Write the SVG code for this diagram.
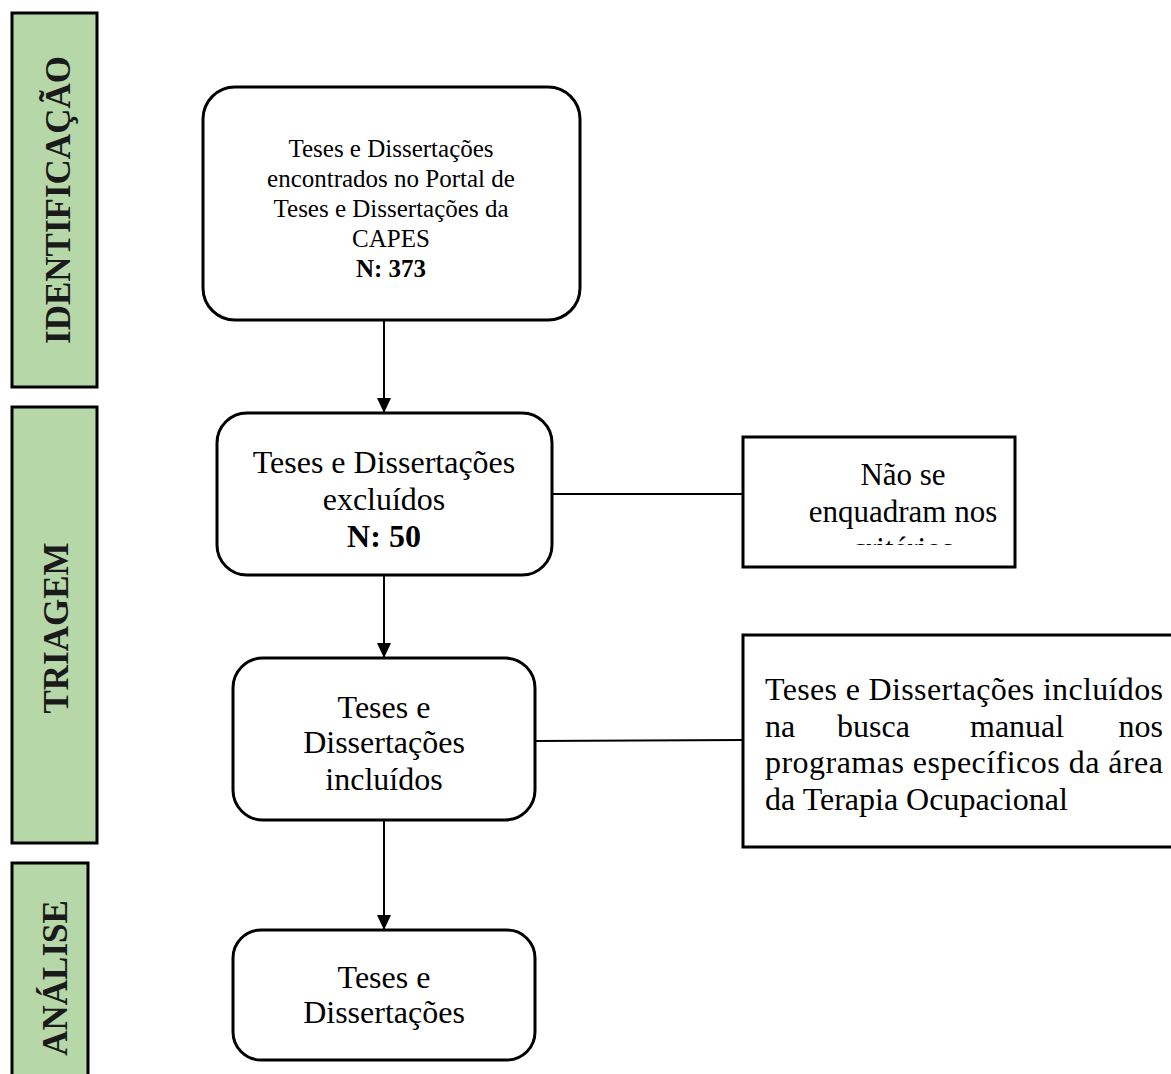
<svg xmlns="http://www.w3.org/2000/svg" width="1171" height="1074" viewBox="0 0 1171 1074">
<style>
.bar{fill:#b6d7a8;stroke:#000;stroke-width:3}
.bl{font-family:"Liberation Serif","Times New Roman",serif;font-weight:bold;font-size:35px;fill:#1a1a1a;text-anchor:middle}
.box{fill:#fff;stroke:#000;stroke-width:3}
.t{font-family:"Liberation Serif","Times New Roman",serif;fill:#000;text-anchor:middle}
.s25{font-size:25px}
.s31{font-size:31px}
.s32{font-size:32px}
.b{font-weight:bold}
.ln{stroke:#000;stroke-width:2;fill:none}
</style>
<defs>
<marker id="ah" viewBox="0 0 15 14" refX="15" refY="7" markerWidth="15" markerHeight="14" markerUnits="userSpaceOnUse" orient="auto">
<path d="M0,0 L15,7 L0,14 Z" fill="#000"/>
</marker>
<clipPath id="clip5"><rect x="745" y="439" width="268" height="106"/></clipPath>
</defs>
<rect width="1171" height="1074" fill="#fff"/>

<g id="bar-identificacao">
<rect class="bar" x="12" y="13" width="85" height="374"/>
<text class="bl" x="70" y="200" transform="rotate(-90 70 200)">IDENTIFICAÇÃO</text>
</g>
<g id="bar-triagem">
<rect class="bar" x="12" y="407" width="85" height="436"/>
<text class="bl" x="68" y="628" transform="rotate(-90 68 628)">TRIAGEM</text>
</g>
<g id="bar-analise">
<rect class="bar" x="12" y="863" width="76" height="220"/>
<text class="bl" x="67" y="978" transform="rotate(-90 67 978)">ANÁLISE</text>
</g>

<g id="connectors">
<line class="ln" x1="384" y1="320" x2="384" y2="413" marker-end="url(#ah)"/>
<line class="ln" x1="384" y1="575" x2="384" y2="658" marker-end="url(#ah)"/>
<line class="ln" x1="384" y1="820" x2="384" y2="930" marker-end="url(#ah)"/>
<line class="ln" x1="552" y1="494" x2="743" y2="494"/>
<line class="ln" x1="535" y1="741" x2="743" y2="740"/>
</g>

<g id="node-capes">
<rect class="box" x="203" y="87" width="377" height="233" rx="32" ry="32"/>
<text class="t s25" x="391" y="157">Teses e Dissertações</text>
<text class="t s25" x="391" y="187">encontrados no Portal de</text>
<text class="t s25" x="391" y="217">Teses e Dissertações da</text>
<text class="t s25" x="391" y="247">CAPES</text>
<text class="t s25 b" x="391" y="277">N: 373</text>
</g>

<g id="node-excluidos">
<rect class="box" x="217" y="413" width="335" height="162" rx="30" ry="30"/>
<text class="t s32" x="384" y="473">Teses e Dissertações</text>
<text class="t s32" x="384" y="510">excluídos</text>
<text class="t s32 b" x="384" y="547">N: 50</text>
</g>

<g id="node-incluidos">
<rect class="box" x="233" y="658" width="302" height="162" rx="30" ry="30"/>
<text class="t s32" x="384" y="718">Teses e</text>
<text class="t s32" x="384" y="753">Dissertações</text>
<text class="t s32" x="384" y="790">incluídos</text>
</g>

<g id="node-analise">
<rect class="box" x="233" y="930" width="302" height="130" rx="28" ry="28"/>
<text class="t s32" x="384" y="988">Teses e</text>
<text class="t s32" x="384" y="1023">Dissertações</text>
</g>

<g id="node-nao-enquadram">
<rect class="box" x="743" y="437" width="272" height="130"/>
<text class="t s31" x="903" y="485">Não se</text>
<text class="t s31" x="903" y="522">enquadram nos</text>
<text class="t s31" x="903" y="559" clip-path="url(#clip5)">critérios</text>
</g>

<g id="node-busca-manual">
<rect class="box" x="743" y="635" width="440" height="212"/>
<text class="t s32" x="765" y="700" style="text-anchor:start" textLength="398" lengthAdjust="spacing">Teses e Dissertações incluídos</text>
<text class="t s32" x="765" y="737" style="text-anchor:start">na</text>
<text class="t s32" x="837" y="737" style="text-anchor:start">busca</text>
<text class="t s32" x="970" y="737" style="text-anchor:start">manual</text>
<text class="t s32" x="1163" y="737" style="text-anchor:end">nos</text>
<text class="t s32" x="765" y="773" style="text-anchor:start" textLength="398" lengthAdjust="spacing">programas específicos da área</text>
<text class="t s32" x="765" y="810" style="text-anchor:start">da Terapia Ocupacional</text>
</g>
</svg>
